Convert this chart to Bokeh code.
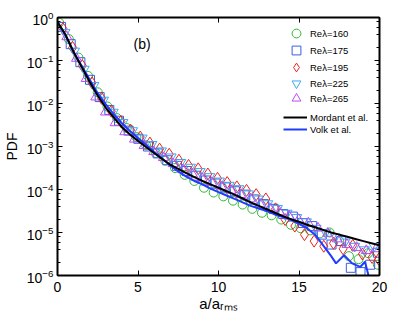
from bokeh.plotting import figure
from bokeh.models import (Range1d, LinearAxis, LogAxis, LogTicker, FixedTicker, Label,
                          Legend, LegendItem, CustomJSTickFormatter)
from bokeh.embed import file_html
from bokeh.resources import INLINE

FONT = "Liberation Sans"

# ---------------- data ----------------
x_ticks = [0, 5, 10, 15, 20]

a_160 = [0.1, 0.7, 1.3, 1.9, 2.5, 3.1, 3.7, 4.3, 4.9, 5.5, 6.1, 6.7, 7.3, 7.9, 8.5, 9.1, 9.7,
         10.3, 10.9, 11.5, 12.1, 12.7, 13.3, 13.9, 14.5, 15.1, 15.7, 16.3, 16.9, 17.5, 18.1,
         18.7, 19.3, 19.9]
pdf_160 = [0.759, 0.316, 0.117, 0.0437, 0.0182, 8.51e-3, 4.57e-3, 2.69e-3, 1.66e-3, 1.07e-3,
           7.08e-4, 4.68e-4, 3.16e-4, 2.19e-4, 1.58e-4, 1.10e-4, 8.51e-5, 6.92e-5, 5.50e-5,
           4.47e-5, 3.55e-5, 2.88e-5, 2.51e-5, 2.00e-5, 1.51e-5, 1.26e-5, 1.12e-5, 9.55e-6,
           1.00e-5, 6.31e-6, 2.82e-6, 2.40e-6, 3.31e-6, 1.78e-6]

a_175 = [0.22, 0.82, 1.42, 2.02, 2.62, 3.22, 3.82, 4.42, 5.02, 5.62, 6.22, 6.82, 7.42, 8.02,
         8.62, 9.22, 9.82, 10.42, 11.02, 11.62, 12.22, 12.82, 13.42, 14.02, 14.62, 15.22,
         15.82, 16.42, 17.02, 17.62, 18.22, 18.82, 19.42, 19.9]
pdf_175 = [0.603, 0.240, 0.0912, 0.0355, 0.0141, 7.08e-3, 3.98e-3, 2.34e-3, 1.51e-3, 1.00e-3,
           6.92e-4, 4.79e-4, 3.55e-4, 2.69e-4, 2.09e-4, 1.62e-4, 1.38e-4, 1.12e-4, 9.12e-5,
           7.59e-5, 5.89e-5, 4.57e-5, 3.55e-5, 2.69e-5, 2.34e-5, 1.66e-5, 1.41e-5, 8.91e-6,
           5.25e-6, 6.31e-6, 1.51e-6, 1.20e-6, 1.78e-6, 3.39e-6]

a_195 = [0.34, 0.94, 1.54, 2.14, 2.74, 3.34, 3.94, 4.54, 5.14, 5.74, 6.34, 6.94, 7.54, 8.14,
         8.74, 9.34, 9.94, 10.54, 11.14, 11.74, 12.34, 12.94, 13.54, 14.14, 14.74, 15.34,
         15.94, 16.54, 17.14, 17.74, 18.34, 18.94, 19.54, 19.95]
pdf_195 = [0.550, 0.200, 0.0759, 0.0302, 0.0132, 6.61e-3, 3.80e-3, 2.40e-3, 1.66e-3, 1.20e-3,
           8.71e-4, 6.61e-4, 4.79e-4, 3.63e-4, 3.02e-4, 2.29e-4, 1.82e-4, 1.45e-4, 1.15e-4,
           9.55e-5, 7.59e-5, 6.03e-5, 3.55e-5, 2.00e-5, 1.41e-5, 8.91e-6, 6.31e-6, 4.79e-6,
           5.62e-6, 4.17e-6, 5.01e-6, 3.16e-6, 2.63e-6, 2.40e-6]

a_225 = [0.46, 1.06, 1.66, 2.26, 2.86, 3.46, 4.06, 4.66, 5.26, 5.86, 6.46, 7.06, 7.66, 8.26,
         8.86, 9.46, 10.06, 10.66, 11.26, 11.86, 12.46, 13.06, 13.66, 14.26, 14.86, 15.46,
         16.06, 16.66, 17.26, 17.86, 18.46, 19.06, 19.66]
pdf_225 = [0.447, 0.166, 0.0631, 0.0263, 0.0120, 6.31e-3, 3.63e-3, 2.34e-3, 1.58e-3, 1.12e-3,
           7.94e-4, 5.75e-4, 4.27e-4, 3.31e-4, 2.63e-4, 2.00e-4, 1.58e-4, 1.26e-4, 1.05e-4,
           7.94e-5, 6.03e-5, 4.68e-5, 3.63e-5, 2.82e-5, 2.24e-5, 1.78e-5, 1.26e-5, 1.00e-5,
           7.94e-6, 6.03e-6, 4.79e-6, 3.98e-6, 4.79e-6]

a_265 = [0.58, 1.18, 1.78, 2.38, 2.98, 3.58, 4.18, 4.78, 5.38, 5.98, 6.58, 7.18, 7.78, 8.38,
         8.98, 9.58, 10.18, 10.78, 11.38, 11.98, 12.58, 13.18, 13.78, 14.38, 14.98, 15.58,
         16.18, 16.78, 17.38, 17.98, 18.58, 19.18, 19.78]
pdf_265 = [0.355, 0.112, 0.0380, 0.0141, 6.31e-3, 3.55e-3, 2.19e-3, 1.48e-3, 1.05e-3, 7.59e-4,
           5.50e-4, 3.98e-4, 2.88e-4, 2.29e-4, 1.82e-4, 1.45e-4, 1.15e-4, 9.55e-5, 7.59e-5,
           6.03e-5, 4.57e-5, 3.63e-5, 3.02e-5, 2.40e-5, 2.00e-5, 1.66e-5, 1.26e-5, 9.55e-6,
           7.08e-6, 5.25e-6, 4.47e-6, 3.80e-6, 4.17e-6]

a_mordant = [0, 0.5, 1, 1.5, 2, 2.5, 3, 3.5, 4, 4.5, 5, 5.5, 6, 6.5, 7, 7.5, 8, 8.5, 9, 9.5,
             10, 10.5, 11, 11.5, 12, 12.5, 13, 13.5, 14, 14.5, 15, 15.5, 16, 16.5, 17, 17.5,
             18, 18.5, 19, 19.5, 20]
pdf_mordant = [0.794, 0.398, 0.158, 0.0708, 0.0316, 0.0151, 7.94e-3, 4.68e-3, 2.82e-3,
               1.91e-3, 1.35e-3, 9.77e-4, 7.08e-4, 5.13e-4, 3.80e-4, 3.02e-4, 2.40e-4,
               1.95e-4, 1.58e-4, 1.32e-4, 1.10e-4, 9.12e-5, 7.59e-5, 6.17e-5, 5.01e-5,
               4.17e-5, 3.47e-5, 2.88e-5, 2.40e-5, 2.04e-5, 1.78e-5, 1.51e-5, 1.32e-5,
               1.15e-5, 1.00e-5, 8.91e-6, 7.94e-6, 7.08e-6, 6.31e-6, 5.62e-6, 5.01e-6]

a_volk = [0, 0.5, 1, 1.5, 2, 2.5, 3, 3.5, 4, 4.5, 5, 5.5, 6, 6.5, 7, 7.5, 8, 8.5, 9, 9.5, 10,
          10.5, 11, 11.5, 12, 12.5, 13, 13.5, 14, 14.5, 15, 15.5, 16, 16.5, 17, 17.3, 17.8,
          18.3, 18.8, 19.1, 19.35]
pdf_volk = [0.759, 0.380, 0.158, 0.0759, 0.0355, 0.0174, 9.55e-3, 5.62e-3, 3.47e-3, 2.29e-3,
            1.58e-3, 1.10e-3, 7.59e-4, 5.25e-4, 3.63e-4, 2.63e-4, 2.00e-4, 1.58e-4, 1.32e-4,
            1.05e-4, 8.71e-5, 7.24e-5, 6.03e-5, 5.01e-5, 4.17e-5, 3.63e-5, 3.16e-5, 2.63e-5,
            2.29e-5, 2.00e-5, 1.58e-5, 1.26e-5, 8.91e-6, 5.01e-6, 2.82e-6, 1.91e-6, 2.95e-6,
            1.91e-6, 1.58e-6, 2.09e-6, 8.91e-7]

series_labels = ["Re\u03bb=160", "Re\u03bb=175", "Re\u03bb=195", "Re\u03bb=225", "Re\u03bb=265"]
line_labels = ["Mordant et al.", "Volk et al."]

# ---------------- figure ----------------
FRAME_LEFT, FRAME_TOP, FRAME_W, FRAME_H = 54, 17, 322, 258
p = figure(output_backend="svg", toolbar_location=None, y_axis_type="log",
           x_range=Range1d(0, 20), y_range=Range1d(1e-6, 1),
           frame_width=FRAME_W, frame_height=FRAME_H,
           min_border_left=FRAME_LEFT, min_border_top=FRAME_TOP,
           min_border_right=25, min_border_bottom=45)
p.background_fill_color = "white"
p.border_fill_color = "white"
p.outline_line_color = "black"
p.outline_line_width = 1
p.xgrid.grid_line_color = None
p.ygrid.grid_line_color = None

# bottom axis
xa = p.xaxis[0]
xa.ticker = FixedTicker(ticks=x_ticks)
xa.axis_line_width = 2
xa.major_tick_in = 5
xa.major_tick_out = 0
xa.minor_tick_line_color = None
xa.major_label_text_font = FONT
xa.major_label_text_font_size = "14px"
xa.major_label_text_color = "black"
xa.major_label_standoff = 6
xa.axis_label = "a/a\u1d63\u2098\u209b"
xa.axis_label_text_font = FONT
xa.axis_label_text_font_size = "15px"
xa.axis_label_text_font_style = "normal"
xa.axis_label_text_color = "black"
xa.axis_label_standoff = 0

# left axis
ya = p.yaxis[0]
ya.ticker = LogTicker(desired_num_ticks=8)
ya.axis_line_width = 2
ya.major_tick_in = 5
ya.major_tick_out = 0
ya.minor_tick_in = 3
ya.minor_tick_out = 0
ya.minor_tick_line_color = "black"
ya.major_label_text_font = FONT
ya.major_label_text_font_size = "14px"
ya.major_label_text_color = "black"
ya.major_label_standoff = 4
ya.axis_label = "PDF"
ya.axis_label_text_font = FONT
ya.axis_label_text_font_size = "14px"
ya.axis_label_text_font_style = "normal"
ya.axis_label_text_color = "black"
ya.axis_label_standoff = 4

# top and right axes (box)
top = LinearAxis(ticker=FixedTicker(ticks=x_ticks), formatter=CustomJSTickFormatter(code="return ''"),
                 axis_line_width=2, major_tick_in=5, major_tick_out=0,
                 minor_tick_line_color=None, major_label_standoff=0)
p.add_layout(top, "above")
right = LogAxis(ticker=LogTicker(desired_num_ticks=8), formatter=CustomJSTickFormatter(code="return ''"),
                axis_line_width=2, major_tick_in=5, major_tick_out=0,
                minor_tick_in=3, minor_tick_out=0, major_label_standoff=0)
p.add_layout(right, "right")

# ---------------- data glyphs ----------------
ms = dict(fill_color=None, line_width=1)
r160 = p.scatter(a_160, pdf_160, marker="circle", size=9, line_color="#33b833", **ms)
r175 = p.scatter(a_175, pdf_175, marker="square", size=9, line_color="#3a5ee0", **ms)
r195 = p.scatter(a_195, pdf_195, marker="diamond", size=12, line_color="#f02020", **ms)
r225 = p.scatter(a_225, pdf_225, marker="inverted_triangle", size=10, line_color="#3aaaf0", **ms)
r265 = p.scatter(a_265, pdf_265, marker="triangle", size=10, line_color="#c048f0", **ms)
rv = p.line(a_volk, pdf_volk, line_color="#1f3cff", line_width=2)
rm = p.line(a_mordant, pdf_mordant, line_color="black", line_width=2)

# ---------------- legend (one single-row legend per entry) ----------------
leg_common = dict(orientation="vertical", border_line_color=None, background_fill_alpha=0,
                  padding=0, margin=0, spacing=0, label_text_font=FONT,
                  label_text_font_size="9.5px", label_text_color="black", label_standoff=3)
marker_rows_bottom = [231, 214, 197, 181, 166]
for lab, r, vy in zip(series_labels, [r160, r175, r195, r225, r265], marker_rows_bottom):
    p.add_layout(Legend(items=[LegendItem(label=lab, renderers=[r])], location=(228, vy),
                        glyph_width=22, glyph_height=22, label_height=16, **leg_common))
line_rows_bottom = [152, 140]
for lab, r, vy in zip(line_labels, [rm, rv], line_rows_bottom):
    p.add_layout(Legend(items=[LegendItem(label=lab, renderers=[r])], location=(226, vy),
                        glyph_width=24, glyph_height=12, label_height=12, **leg_common))

# panel tag
p.add_layout(Label(x=76, y=232, x_units="screen", y_units="screen", text="(b)",
                   text_align="left", text_baseline="middle", text_font=FONT,
                   text_font_size="14px", text_color="black"))

open("out.html", "w").write(file_html(p, INLINE))
